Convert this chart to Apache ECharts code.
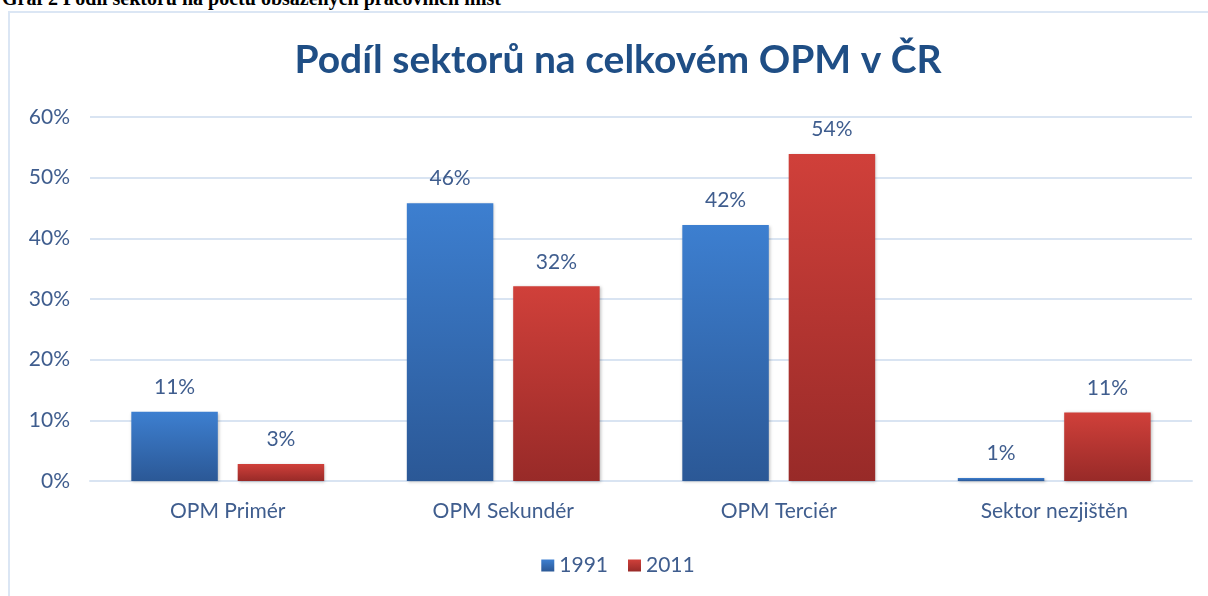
<!DOCTYPE html>
<html>
<head>
<meta charset="utf-8">
<script src="https://cdn.jsdelivr.net/npm/echarts@6/dist/echarts.min.js"></script>
<style>
  html, body { margin: 0; padding: 0; background: #fff; overflow: hidden; }
  #caption {
    position: absolute; left: 2px; top: -13px;
    font: bold 20px "Liberation Serif", serif; color: #000; white-space: nowrap;
  }
  #frame {
    position: absolute; left: 8px; top: 11px; width: 1400px; height: 800px;
    border: 2px solid #dbe6f4;
  }
  #chart { position: absolute; left: 0; top: 0; width: 1236px; height: 596px; }
</style>
</head>
<body>
<div id="caption">Graf 2 Podíl sektorů na počtu obsazených pracovních míst</div>
<div id="frame"></div>
<div id="chart"></div>
<script>
// hodnoty (v %)
var categories = ['OPM Primér', 'OPM Sekundér', 'OPM Terciér', 'Sektor nezjištěn'];
var values1991 = [11.4, 45.8, 42.2, 0.5];
var values2011 = [2.8, 32.1, 53.9, 11.3];
var yTicks = [0, 10, 20, 30, 40, 50, 60];

var textColor = '#3f5d8e';
var font = 'Lato, "Open Sans", sans-serif';

function grad(top, bottom) {
  return new echarts.graphic.LinearGradient(0, 0, 0, 1, [
    { offset: 0, color: top },
    { offset: 1, color: bottom }
  ]);
}

var chart = echarts.init(document.getElementById('chart'));
chart.setOption({
  animation: false,
  title: {
    text: 'Podíl sektorů na celkovém OPM v ČR',
    left: 'center',
    top: 36,
    textStyle: { color: '#1f4e85', fontSize: 39, fontWeight: 'bold', fontFamily: font }
  },
  legend: {
    data: ['1991', '2011'],
    bottom: 15,
    left: 'center',
    itemWidth: 13,
    itemHeight: 12,
    itemGap: 20,
    icon: 'rect',
    textStyle: { color: textColor, fontSize: 21, fontFamily: font }
  },
  grid: { left: 90, right: 44, top: 117, bottom: 115 },
  xAxis: {
    type: 'category',
    data: categories,
    axisLine: { lineStyle: { color: '#d9e4f2', width: 2 } },
    axisTick: { show: false },
    axisLabel: { color: textColor, fontSize: 21, fontFamily: font, margin: 20 }
  },
  yAxis: {
    type: 'value',
    min: yTicks[0],
    max: yTicks[yTicks.length - 1],
    interval: 10,
    axisLine: { show: false },
    axisTick: { show: false },
    splitLine: { lineStyle: { color: '#d9e4f2', width: 2 } },
    axisLabel: { color: textColor, fontSize: 21, fontFamily: font, margin: 20, formatter: '{value}%' }
  },
  series: [
    {
      name: '1991',
      type: 'bar',
      data: values1991,
      barGap: '23%',
      barCategoryGap: '30%',
      itemStyle: { color: grad('#3d7fd0', '#2b5896'), shadowColor: 'rgba(0,0,0,0.25)', shadowBlur: 3, shadowOffsetX: 1, shadowOffsetY: 1 },
      label: {
        show: true, position: 'top', distance: 14,
        color: textColor, fontSize: 21, fontFamily: font,
        formatter: function (p) { return Math.round(p.value) + '%'; }
      }
    },
    {
      name: '2011',
      type: 'bar',
      data: values2011,
      itemStyle: { color: grad('#d0403a', '#982a28'), shadowColor: 'rgba(0,0,0,0.25)', shadowBlur: 3, shadowOffsetX: 1, shadowOffsetY: 1 },
      label: {
        show: true, position: 'top', distance: 14,
        color: textColor, fontSize: 21, fontFamily: font,
        formatter: function (p) { return Math.round(p.value) + '%'; }
      }
    }
  ]
});
</script>
</body>
</html>
